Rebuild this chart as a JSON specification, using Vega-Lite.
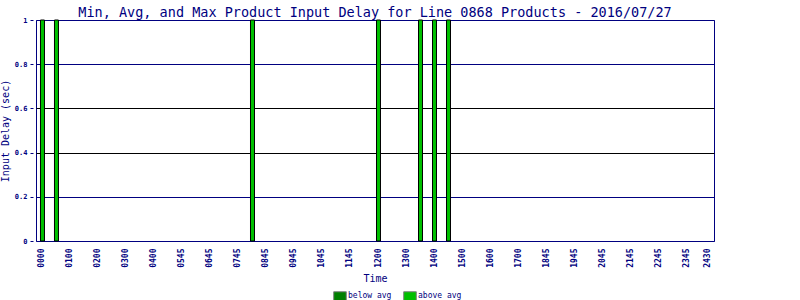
{
  "$schema": "https://vega.github.io/schema/vega-lite/v6.json",
  "autosize": "none",
  "width": 678,
  "height": 221,
  "padding": {"left": 36, "top": 20, "right": 86, "bottom": 59},
  "background": "white",
  "config": {
    "view": {"stroke": "#000080", "strokeWidth": 1},
    "font": "DejaVu Sans Mono"
  },
  "title": {
    "text": "Min, Avg, and Max Product Input Delay for Line 0868 Products - 2016/07/27",
    "font": "DejaVu Sans Mono",
    "fontSize": 13.5,
    "fontWeight": "normal",
    "color": "#000080",
    "anchor": "middle",
    "frame": "group",
    "baseline": "alphabetic",
    "offset": 0,
    "dy": 14
  },
  "data": {
    "values": [
      {"time": "0000", "delay": 1, "level": "above avg"},
      {"time": "0030", "delay": 1, "level": "above avg"},
      {"time": "0815", "delay": 1, "level": "above avg"},
      {"time": "1200", "delay": 1, "level": "above avg"},
      {"time": "1330", "delay": 1, "level": "above avg"},
      {"time": "1400", "delay": 1, "level": "above avg"},
      {"time": "1430", "delay": 1, "level": "above avg"}
    ]
  },
  "mark": {"type": "bar", "stroke": "black", "strokeWidth": 1},
  "encoding": {
    "x": {
      "field": "time",
      "type": "ordinal",
      "scale": {
        "domain": ["0000","0015","0030","0045","0100","0115","0130","0145","0200","0215","0230","0245","0300","0315","0330","0345","0400","0500","0515","0530","0545","0600","0615","0630","0645","0700","0715","0730","0745","0800","0815","0830","0845","0900","0915","0930","0945","1000","1015","1030","1045","1100","1115","1130","1145","1149","1152","1156","1200","1215","1230","1245","1300","1315","1330","1345","1400","1415","1430","1445","1500","1515","1530","1545","1600","1615","1630","1645","1700","1800","1815","1830","1845","1900","1915","1930","1945","2000","2015","2030","2045","2100","2115","2130","2145","2200","2215","2230","2245","2300","2315","2330","2345","2400","2415","2430"],
        "paddingInner": 0.43,
        "paddingOuter": 0.64
      },
      "axis": {
        "title": "Time",
        "values": ["0000","0100","0200","0300","0400","0545","0645","0745","0845","0945","1045","1145","1200","1300","1400","1500","1600","1700","1845","1945","2045","2145","2245","2345","2430"],
        "labelAngle": -90,
        "labelFont": "DejaVu Sans Mono",
        "labelFontSize": 8,
        "labelFontWeight": "bold",
        "labelColor": "#000080",
        "labelPadding": 7,
        "ticks": false,
        "domain": false,
        "grid": false,
        "titleFont": "DejaVu Sans Mono",
        "titleFontSize": 10,
        "titleFontWeight": "normal",
        "titleColor": "#000080",
        "titlePadding": 6
      }
    },
    "y": {
      "field": "delay",
      "type": "quantitative",
      "scale": {"domain": [0, 1], "nice": false},
      "axis": {
        "title": "Input Delay (sec)",
        "values": [0, 0.2, 0.4, 0.6, 0.8, 1],
        "format": "~g",
        "offset": 3,
        "domain": false,
        "tickSize": 3,
        "tickColor": "#000080",
        "labelFont": "DejaVu Sans Mono",
        "labelFontSize": 7,
        "labelFontWeight": "bold",
        "labelColor": "#000080",
        "labelPadding": 3,
        "grid": true,
        "gridColor": {"condition": {"test": "datum.value == 0.4 || datum.value == 0.6", "value": "black"}, "value": "#000080"},
        "gridOpacity": 1,
        "gridWidth": 1,
        "titleFont": "DejaVu Sans Mono",
        "titleFontSize": 10,
        "titleFontWeight": "normal",
        "titleColor": "#000080",
        "titlePadding": 4
      }
    },
    "color": {
      "field": "level",
      "type": "nominal",
      "scale": {"domain": ["below avg", "above avg"], "range": ["#008000", "#00C000"]},
      "legend": {
        "title": null,
        "orient": "none",
        "direction": "horizontal",
        "legendX": 299,
        "legendY": 271,
        "symbolType": "M-1.4,-1H1.4V1H-1.4Z",
        "symbolSize": 81,
        "symbolStrokeColor": "#808080",
        "symbolStrokeWidth": 1,
        "symbolOpacity": 1,
        "labelFont": "DejaVu Sans Mono",
        "labelFontSize": 8,
        "labelColor": "#000080",
        "labelOffset": 3,
        "columnPadding": 9
      }
    }
  }
}
